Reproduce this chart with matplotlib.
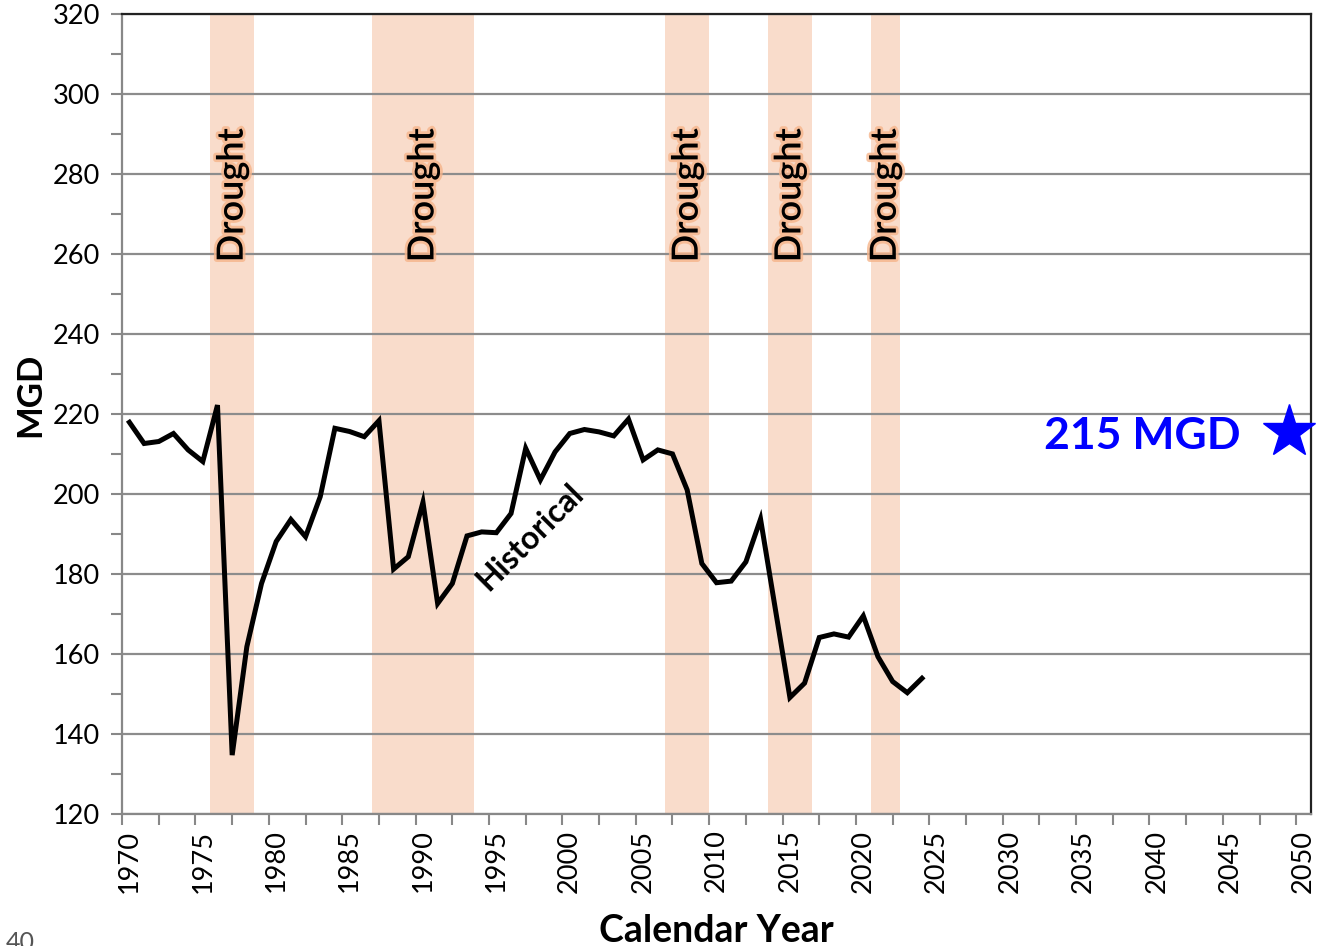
import matplotlib
matplotlib.use("Agg")
import matplotlib.pyplot as plt
import matplotlib.patheffects as pe
import numpy as np

plt.rcParams['font.family'] = ['Lato', 'DejaVu Sans']

# annual demand, MGD
years = list(range(1970, 2025))
mgd = [218.0, 212.7, 213.2, 215.2, 211.1, 208.2, 222.3, 134.8, 161.9, 177.7,
       188.2, 193.7, 189.4, 199.4, 216.5, 215.7, 214.4, 218.4, 181.3, 184.4,
       198.0, 172.7, 177.7, 189.6, 190.6, 190.4, 195.2, 211.5, 203.6, 210.6,
       215.2, 216.2, 215.6, 214.6, 218.8, 208.6, 211.1, 210.1, 201.1, 182.7,
       177.9, 178.3, 183.1, 193.8, 171.5, 149.2, 152.8, 164.2, 165.1, 164.3,
       169.6, 159.4, 153.2, 150.4, 154.0]

# drought periods (first year, last year)
droughts = [(1976, 1978), (1987, 1993), (2007, 2009), (2014, 2016), (2021, 2022)]

target_year = 2049
target_mgd = 215.5
target_label = "215 MGD"

fig = plt.figure(figsize=(13.17, 9.46), dpi=100)
ax = fig.add_axes([0.0927, 0.1392, 0.9027, 0.8457])

band_color = "#f9dccb"
for a, b in droughts:
    ax.axvspan(a - 0.5, b + 0.5, color=band_color, lw=0, zorder=0)
    ax.text((a + b) / 2, 258, "Drought", rotation=90, ha="center", va="bottom",
            fontsize=26, fontweight="semibold", color="black",
            path_effects=[pe.withStroke(linewidth=4, foreground="#f6b48a", alpha=0.8)],
            zorder=3)

ax.plot(years, mgd, color="black", lw=3.6, zorder=4, solid_joinstyle="miter")

ax.text(1997.3, 189.3, "Historical", rotation=45, ha="center", va="center",
        fontsize=23, fontweight="bold", rotation_mode="anchor", zorder=5)

ax.plot([target_year], [target_mgd], marker="*", color="#0000ff", ms=40,
        clip_on=False, zorder=6, linestyle="none")
ax.text(2045.7, 214.7, target_label, ha="right", va="center", fontsize=32,
        fontweight="bold", color="#0000ff")

ax.set_xlim(1969.5, 2050.5)
ax.set_ylim(120, 320)
ax.set_yticks(np.arange(120, 321, 20))
ax.set_yticks(np.arange(130, 320, 20), minor=True)
ax.set_xticks(np.arange(1970, 2051, 5))
ax.set_xticks(np.arange(1969.5, 2050, 2.5), minor=True)
ax.tick_params(axis="x", which="major", length=0, labelsize=19.5, rotation=90, pad=11)
ax.tick_params(axis="x", which="minor", length=8, width=1.5, color="#888888")
ax.tick_params(axis="y", which="both", length=8, width=1.5, color="#888888",
               labelsize=19.5, pad=8)
for lab in ax.get_xticklabels():
    lab.set_va("top")

ax.grid(axis="y", which="major", color="#8c8c8c", lw=1.6, zorder=1)
ax.set_axisbelow(True)
for s in ["left", "bottom"]:
    ax.spines[s].set_color("#888888")
    ax.spines[s].set_linewidth(1.6)
for s in ["top", "right"]:
    ax.spines[s].set_color("#222222")
    ax.spines[s].set_linewidth(1.6)

ax.set_ylabel("MGD", fontsize=25, fontweight="bold")
ax.yaxis.set_label_coords(-0.064, 0.524)
ax.set_xlabel("Calendar Year", fontsize=27, fontweight="bold")
ax.xaxis.set_label_coords(0.50, -0.125)

fig.text(0.004, -0.008, "40", fontsize=18, color="#555555", ha="left", va="bottom")

fig.savefig("out.png", dpi=100)
